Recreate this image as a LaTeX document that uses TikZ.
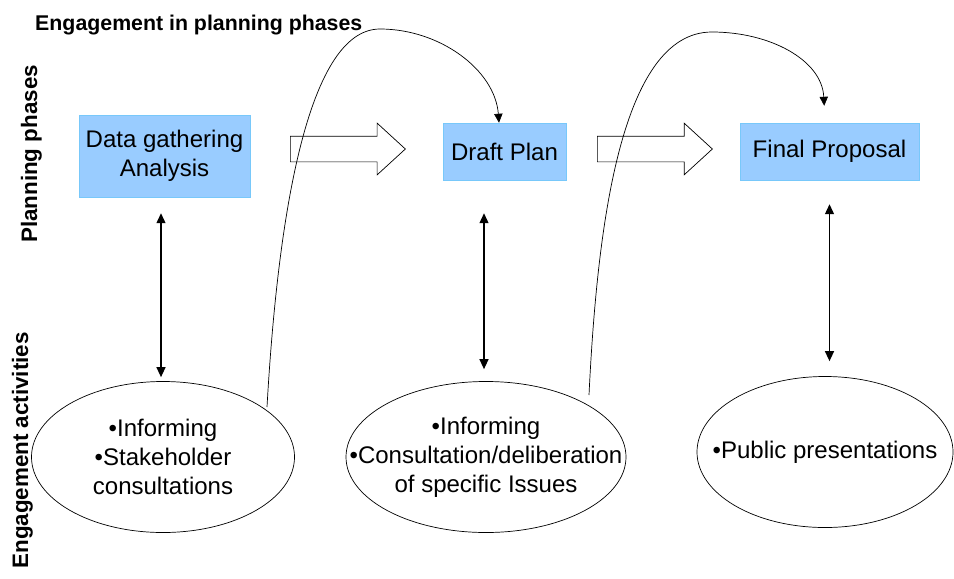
\documentclass[tikz,border=0pt]{standalone}
\usepackage{fontspec}
\setmainfont{Liberation Sans}
\usepackage{xcolor}
\definecolor{phaseBlue}{RGB}{153,204,255}
\definecolor{phaseEdge}{RGB}{120,200,250}
\usetikzlibrary{shapes.geometric,shapes.arrows,arrows.meta}
\tikzset{
  phase/.style={rectangle,draw=phaseEdge,fill=phaseBlue,align=center,
    inner sep=2pt,minimum width=#1,minimum height=1.71cm,
    font=\fontsize{20.5}{24.6}\selectfont},
  phase/.default=3.69cm,
  activity/.style={ellipse,draw=black,line width=0.6pt,inner sep=0pt,
    minimum height=4.53cm,minimum width=#1},
  activity/.default=7.89cm,
  acttext/.style={align=center,font=\fontsize{20.5}{24.7}\selectfont},
  flow/.style={single arrow,draw=black,fill=white,line width=0.6pt,
    minimum height=3.45cm,inner sep=0.375cm,anchor=tail,
    single arrow head extend=0.39cm,single arrow tip angle=85},
  link/.style={{Triangle[length=0.3cm,width=0.27cm]}-{Triangle[length=0.3cm,width=0.27cm]},
    line width=1.1pt},
  feedback/.style={-{Triangle[length=0.27cm,width=0.25cm]},line width=0.6pt},
  heading/.style={inner sep=0pt,font=\fontsize{#1}{22}\selectfont\bfseries},
  heading/.default=19.1pt
}

\begin{document}
\begin{tikzpicture}[x=0.03cm,y=-0.03cm]
  \useasboundingbox (0,0) rectangle (954,578);

  % side and top headings
  \node[heading=18.2pt, anchor=base west] (title) at (35,30) {Engagement in planning phases};
  \node[heading, rotate=90, anchor=base] (planlabel) at (37,154) {Planning phases};
  \node[heading, rotate=90, anchor=base east] (actlabel) at (28,332) {Engagement activities};

  % planning phases
  \node[phase=5.13cm, minimum height=2.46cm] (gather) at (164.5,156)
    {Data gathering\\Analysis};
  \node[phase] (draft) at (504.5,151.5) {Draft Plan};
  \node[phase=5.37cm] (final) at (829.5,151.5) {Final Proposal};
  \node[flow] (flow1) at (290,149) {};
  \node[flow] (flow2) at (597,149) {};

  % engagement activities
  \node[activity] (inform) at (163,457) {};
  \node[acttext] (inform-t) at (inform) {•Informing\\•Stakeholder\\consultations};
  \node[activity=8.4cm] (consult) at (486,457) {};
  \node[acttext] (consult-t) at (consult)
    {•Informing\\•Consultation/deliberation\\of specific Issues};
  \node[activity=7.68cm] (present) at (825,452) {};
  \node[acttext] (present-t) at (present) {•Public presentations};

  \draw[link, shorten <=0.48cm, shorten >=0.12cm]
    ([xshift=-0.06cm]inform.north |- gather.south) -- ([xshift=-0.06cm]inform.north);
  \draw[link, shorten <=0.99cm, shorten >=0.36cm]
    ([xshift=-0.06cm]consult.north |- draft.south) -- ([xshift=-0.06cm]consult.north);
  \draw[link, shorten <=0.72cm, shorten >=0.45cm]
    (final.south) -- (final.south |- present.north);

  % engagement feeding the next phase
  \coordinate (c1) at (267,407);
  \coordinate (c2) at (589,395);
  \draw[feedback] (c1) .. controls (277,230) and (305,29) .. (380,29)
    .. controls (440,29) and (495,70) .. ([xshift=-0.165cm]draft.north);
  \draw[feedback, shorten >=0.51cm] (c2) .. controls (597,230) and (620,32) .. (712,32)
    .. controls (770,32) and (822,60) .. ([xshift=-0.135cm]final.north);
\end{tikzpicture}
\end{document}
